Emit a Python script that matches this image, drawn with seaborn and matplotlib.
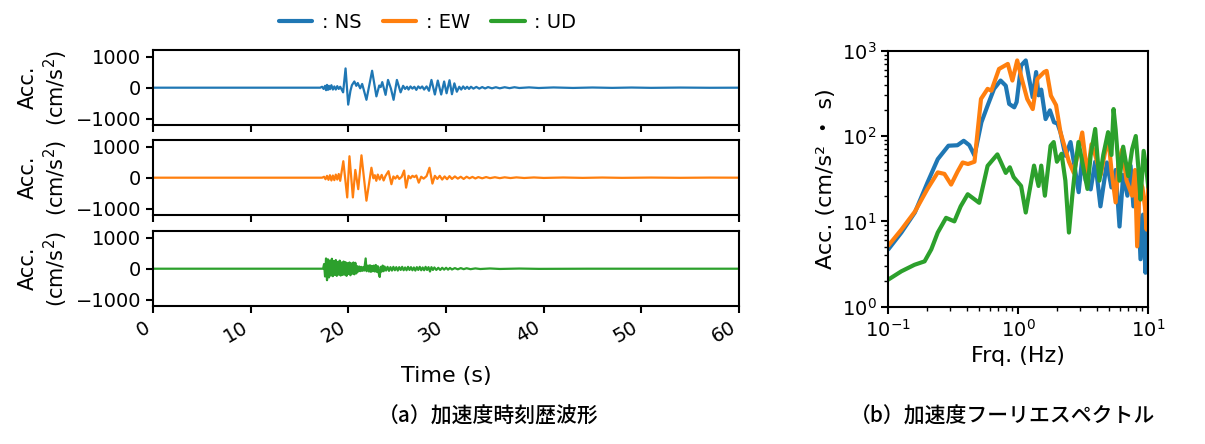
import numpy as np
import pandas as pd
import seaborn as sns
import matplotlib.pyplot as plt
from matplotlib.lines import Line2D

# --- acceleration time histories (time s, acc cm/s2) ---
ns_wave = [(0, 0), (17.1, 0), (17.3, 30), (17.45, -40), (17.6, 60), (17.7, -80), (17.8, 90), (17.9, -70),
           (18.0, 60), (18.1, -50), (18.25, 80), (18.4, -60), (18.55, 40), (18.7, -60), (18.85, 50),
           (19.0, -40), (19.15, 30), (19.3, -60), (19.45, -150), (19.7, 620), (19.97, -545), (20.2, -100),
           (20.35, 80), (20.6, 200), (20.8, 60), (20.95, 150), (21.2, -20), (21.4, 120), (21.55, -50),
           (21.84, -390), (22.42, 545), (22.86, -280), (23.15, 70), (23.3, 20), (23.46, 180), (23.8, -230),
           (24.05, 250), (24.35, -30), (24.62, -390), (24.96, 250), (25.34, -150), (25.6, 60), (25.8, -40),
           (26.0, 30), (26.15, -60), (26.35, 40), (26.55, -30), (26.75, 30), (26.95, -70), (27.15, 40),
           (27.35, -20), (27.55, 40), (27.75, -60), (28.0, 40), (28.25, -100), (28.5, 250), (28.85, -220),
           (29.15, 230), (29.5, -220), (29.8, 200), (30.05, -180), (30.35, 240), (30.6, -210), (30.85, 140),
           (31.1, -130), (31.35, 30), (31.55, -60), (31.75, 40), (31.95, -40), (32.15, 30), (32.35, -40),
           (32.55, 30), (32.8, -30), (33.1, 25), (33.4, -30), (33.7, 20), (34.0, -25), (34.3, 20),
           (34.7, -20), (35.1, 15), (35.5, -20), (36.0, 15), (36.5, -15), (37.0, 15), (37.5, -10),
           (38.5, 10), (39.5, -10), (41, 8), (43, -8), (45, 6), (47, -6), (49, 5), (51, -5), (54, 4),
           (57, -3), (60, 0)]

ew_wave = [(0, 0), (17.3, 0), (17.5, 30), (17.65, -50), (17.8, 60), (17.95, -70), (18.1, 80), (18.25, -90),
           (18.4, 70), (18.55, -80), (18.7, 100), (18.85, -60), (19.0, 120), (19.15, -100), (19.47, 530),
           (19.87, -635), (20.1, 690), (20.45, -635), (20.7, 250), (21.0, -370), (21.33, 720), (21.84, -740),
           (22.35, 320), (22.55, -20), (22.7, 80), (22.85, -100), (23.0, 100), (23.2, -60), (23.4, 90),
           (23.6, -90), (23.8, 60), (24.1, 210), (24.4, -210), (24.6, 40), (24.8, -30), (25.0, 60),
           (25.2, -40), (25.45, 30), (25.7, 230), (25.9, -320), (26.15, 60), (26.35, -20), (26.55, 60),
           (26.75, 20), (26.95, 70), (27.2, -160), (27.45, 30), (27.7, -30), (28.0, 50), (28.3, 320),
           (28.6, -190), (28.85, 60), (29.1, -40), (29.35, 60), (29.6, -60), (29.85, 40), (30.1, -50),
           (30.35, 50), (30.6, -40), (30.9, 40), (31.2, -30), (31.5, 30), (31.8, -40), (32.1, 30),
           (32.4, -20), (32.7, 25), (33.0, -25), (33.3, 20), (33.7, -20), (34.1, 20), (34.5, -15),
           (35.0, 15), (35.5, -15), (36.0, 12), (36.6, -12), (37.2, 10), (38, -10), (39, 8), (40, -8),
           (42, 6), (44, -6), (46, 5), (48, -5), (51, 4), (54, -4), (57, 3), (60, 0)]

ud_wave = [(0, 0), (17.4, 0), (17.5, 150), (17.6, -250), (17.7, 330), (17.8, -370), (17.9, 300), (18.0, -280),
           (18.1, 260), (18.2, -220), (18.3, 320), (18.4, -240), (18.5, 250), (18.6, -200), (18.7, 280),
           (18.8, -230), (18.9, 220), (19.0, -190), (19.1, 260), (19.2, -220), (19.3, 200), (19.4, -200),
           (19.5, 230), (19.6, -190), (19.7, 210), (19.8, -230), (19.9, 180), (20.0, -170), (20.1, 200),
           (20.2, -210), (20.3, 170), (20.4, -160), (20.5, 200), (20.6, -180), (20.7, 190), (20.8, -150),
           (20.9, 80), (21.0, -90), (21.1, 70), (21.2, -80), (21.3, 60), (21.4, -70), (21.5, 50),
           (21.6, -60), (21.76, 330), (21.85, -80), (22.0, 100), (22.1, -90), (22.2, 110), (22.3, -100),
           (22.4, 90), (22.5, -80), (22.6, 100), (22.7, -90), (22.8, 120), (22.9, -100), (23.0, 80),
           (23.1, -150), (23.2, -265), (23.3, 60), (23.4, -90), (23.5, 100), (23.6, -80), (23.7, 70),
           (23.85, -60), (24.0, 60), (24.15, -70), (24.3, 50), (24.45, -60), (24.6, 60), (24.75, -50),
           (24.9, 50), (25.05, -60), (25.2, 50), (25.35, -40), (25.5, 60), (25.65, -50), (25.8, 40),
           (25.95, -50), (26.1, 60), (26.25, -40), (26.4, 50), (26.55, -50), (26.7, 40), (26.85, -60),
           (27.0, 50), (27.15, -40), (27.3, 60), (27.45, -50), (27.6, 40), (27.75, -50), (27.9, 60),
           (28.05, -40), (28.2, 50), (28.35, -90), (28.5, 50), (28.65, -40), (28.8, 40), (29.0, -40),
           (29.2, 30), (29.4, -40), (29.6, 30), (29.8, -30), (30.0, 30), (30.2, -30), (30.4, 25),
           (30.6, -25), (30.9, 20), (31.2, -20), (31.5, 20), (31.8, -15), (32.1, 15), (32.5, -15),
           (33.0, 10), (33.5, -10), (34.5, 8), (35.5, -8), (37.5, 5), (39.5, -5), (44.5, 0), (60, 0)]

# --- Fourier spectra (Hz, cm/s2*s) ---
ns_spec = [(0.10, 4.7), (0.126, 7.4), (0.16, 12.7), (0.20, 28.5), (0.24, 53.6), (0.29, 77), (0.34, 78),
           (0.38, 88), (0.42, 78), (0.46, 59), (0.52, 145), (0.58, 227), (0.65, 357), (0.73, 447),
           (0.80, 389), (0.85, 238), (0.93, 217), (0.97, 250), (1.05, 671), (1.14, 769), (1.21, 468),
           (1.29, 285), (1.37, 562), (1.43, 300), (1.50, 350), (1.62, 158), (1.75, 200), (1.88, 145),
           (2.0, 140), (2.11, 110), (2.3, 58.7), (2.52, 85), (2.7, 45), (2.91, 22), (3.1, 55), (3.3, 30),
           (3.6, 23.7), (3.9, 50), (4.28, 15), (4.8, 49), (5.2, 25), (5.6, 40), (6.0, 8.7), (6.4, 35),
           (6.9, 20), (7.3, 45), (7.67, 15), (8.2, 30), (8.7, 3.6), (9.1, 12), (9.5, 2.5), (9.8, 6),
           (10.0, 12)]

ew_spec = [(0.10, 5.2), (0.126, 8), (0.16, 13), (0.20, 24), (0.24, 37.5), (0.27, 36), (0.304, 27),
           (0.34, 38), (0.373, 49), (0.41, 47), (0.46, 50), (0.516, 272), (0.58, 357), (0.62, 340),
           (0.71, 611), (0.83, 700), (0.9, 447), (0.98, 769), (1.07, 450), (1.17, 272), (1.29, 207),
           (1.4, 468), (1.58, 562), (1.65, 580), (1.78, 297), (1.95, 230), (2.11, 110), (2.3, 70),
           (2.45, 50), (2.67, 37), (2.85, 60), (3.1, 110), (3.4, 34), (3.65, 80), (3.9, 60), (4.3, 35),
           (4.6, 60), (4.9, 100), (5.2, 40), (5.6, 16.7), (5.9, 50), (6.3, 70), (6.8, 30), (7.5, 20),
           (7.9, 40), (8.2, 5.1), (8.6, 30), (9.0, 25), (9.4, 15), (9.7, 8), (10.0, 30)]

ud_spec = [(0.10, 2.08), (0.126, 2.6), (0.159, 3.1), (0.19, 3.4), (0.214, 4.7), (0.24, 7.4), (0.278, 11),
           (0.322, 10), (0.36, 15), (0.408, 20.8), (0.5, 16.5), (0.58, 44.7), (0.69, 61), (0.80, 37),
           (0.86, 43), (0.92, 33), (1.05, 26), (1.14, 12.7), (1.2, 20), (1.32, 45), (1.43, 26), (1.5, 45),
           (1.6, 20), (1.77, 77), (1.87, 85), (1.98, 50), (2.15, 62), (2.3, 30), (2.45, 7.4), (2.6, 20),
           (2.75, 45), (2.9, 85), (3.1, 50), (3.4, 24), (3.6, 60), (3.9, 121), (4.2, 30), (4.5, 60),
           (4.9, 111), (5.2, 60), (5.4, 207), (5.6, 120), (6.0, 30), (6.4, 75), (7.0, 34), (7.5, 70),
           (8.0, 100), (8.4, 40), (8.7, 18), (9.2, 67), (9.7, 38), (10.0, 25)]

components = ['NS', 'EW', 'UD']
colors = ['#1f77b4', '#ff7f0e', '#2ca02c']
waves = [ns_wave, ew_wave, ud_wave]
specs = [ns_spec, ew_spec, ud_spec]

sns.set_style("ticks")
plt.rcParams['font.family'] = ['DejaVu Sans', 'Noto Sans CJK JP']
plt.rcParams['font.size'] = 14
plt.rcParams['axes.labelsize'] = 16
plt.rcParams['axes.linewidth'] = 1.5
plt.rcParams['axes.edgecolor'] = 'black'
plt.rcParams['axes.labelcolor'] = 'black'
plt.rcParams['text.color'] = 'black'
plt.rcParams['xtick.color'] = 'black'
plt.rcParams['ytick.color'] = 'black'

fig = plt.figure(figsize=(12.05, 4.44), dpi=100)

# time histories
bottoms = [0.7185, 0.5158, 0.3108]
time_axes = []
for i, (wave, c) in enumerate(zip(waves, colors)):
    ax = fig.add_axes([0.1272, bottoms[i], 0.486, 0.168])
    df = pd.DataFrame(wave, columns=['t', 'acc'])
    sns.lineplot(data=df, x='t', y='acc', ax=ax, color=c, lw=1.6, estimator=None)
    ax.set_xlim(0, 60)
    ax.set_ylim(-1200, 1200)
    ax.set_yticks([-1000, 0, 1000])
    ax.set_xticks(range(0, 61, 10))
    ax.set_ylabel("Acc.\n(cm/s$^2$)", fontsize=15)
    ax.set_xlabel('')
    ax.tick_params(width=1.5, length=5)
    if i < 2:
        ax.set_xticklabels([])
    time_axes.append(ax)

time_axes[-1].set_xlabel("Time (s)", labelpad=14)
plt.setp(time_axes[-1].get_xticklabels(), rotation=30, ha='right')

# Fourier spectra
ax_s = fig.add_axes([0.7372, 0.3092, 0.2158, 0.5766])
for spec, c in zip(specs, colors):
    df = pd.DataFrame(spec, columns=['f', 'amp'])
    sns.lineplot(data=df, x='f', y='amp', ax=ax_s, color=c, lw=3, estimator=None)
ax_s.set_xscale('log')
ax_s.set_yscale('log')
ax_s.set_xlim(0.1, 10)
ax_s.set_ylim(1, 1000)
ax_s.set_xlabel("Frq. (Hz)")
ax_s.set_ylabel("Acc. (cm/s² ・ s)")
ax_s.tick_params(which='major', width=1.5, length=5)
ax_s.tick_params(which='minor', width=1.0, length=3)

# legend
handles = [Line2D([], [], color=c, lw=3) for c in colors]
fig.legend(handles, [': ' + n for n in components], loc='upper center',
           bbox_to_anchor=(0.355, 1.01), ncol=3, frameon=False, handlelength=1.7,
           columnspacing=1.1, handletextpad=0.5)

# captions
fig.text(0.405, 0.062, "（a）加速度時刻歴波形", ha='center', va='center',
         family=['Noto Sans CJK JP'], fontsize=15, fontweight='medium')
fig.text(0.832, 0.062, "（b）加速度フーリエスペクトル", ha='center', va='center',
         family=['Noto Sans CJK JP'], fontsize=15, fontweight='medium')

fig.savefig('out.png', dpi=100)
